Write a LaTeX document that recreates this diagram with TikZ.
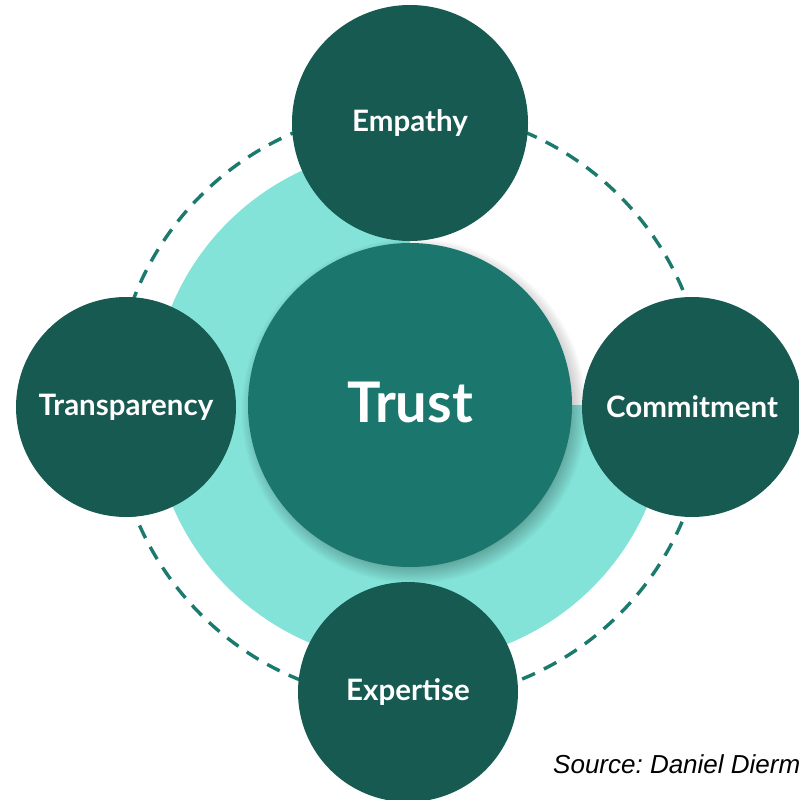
\documentclass[tikz,border=0pt]{standalone}
\usepackage{fontspec}
\setmainfont{Lato}
\newfontfamily\srcfont{Liberation Sans}
\definecolor{darkteal}{HTML}{165A52}
\definecolor{midteal}{HTML}{1B776D}
\definecolor{lightteal}{HTML}{84E3D8}
\definecolor{dashteal}{HTML}{1A7A6E}
\tikzset{
  sat/.style={circle, fill=darkteal, text=white, font=\bfseries\fontsize{29.5}{34}\selectfont, inner sep=0pt},
  core/.style={circle, fill=midteal, text=white, font=\bfseries\fontsize{56}{64}\selectfont, inner sep=0pt},
  ring/.style={draw=dashteal, line width=3.4pt, dash pattern=on 14pt off 10pt},
}
\begin{document}
\frenchspacing
\begin{tikzpicture}[x=1pt,y=-1pt]
\useasboundingbox (0,0) rectangle (799,800);
\clip (0,0) rectangle (799,800);
% light 3/4 disc
\fill[lightteal] (410,405) -- ++(258,0) arc[start angle=0, end angle=270, radius=258] -- cycle;
% dashed ring
\draw[ring] (410,405) circle[radius=296];
% shadow of the core
\foreach \i in {1,...,14}{
  \fill[black, opacity=0.025] (414,411) circle[radius=150+\i*1.6];
}
\node[core, minimum size=324pt] (trust) at (410,405) {};
\node[text=white, font=\bfseries\fontsize{56}{64}\selectfont] (trustlabel) at (410,402) {Trust};
% satellites
\node[sat, minimum size=236pt] (empathy) at (410,123) {Empathy};
\node[sat, minimum size=220pt] (transparency) at (126,407) {Transparency};
\node[sat, minimum size=220pt] (commitment) at (692,407) {Commitment};
\node[sat, minimum size=220pt] (expertise) at (408,692) {Expertise};
% source
\node[anchor=base west, font=\srcfont\itshape\fontsize{26}{30}\selectfont, inner sep=0pt] (source) at (553,773) {Source: Daniel Dierm};
\end{tikzpicture}
\end{document}
